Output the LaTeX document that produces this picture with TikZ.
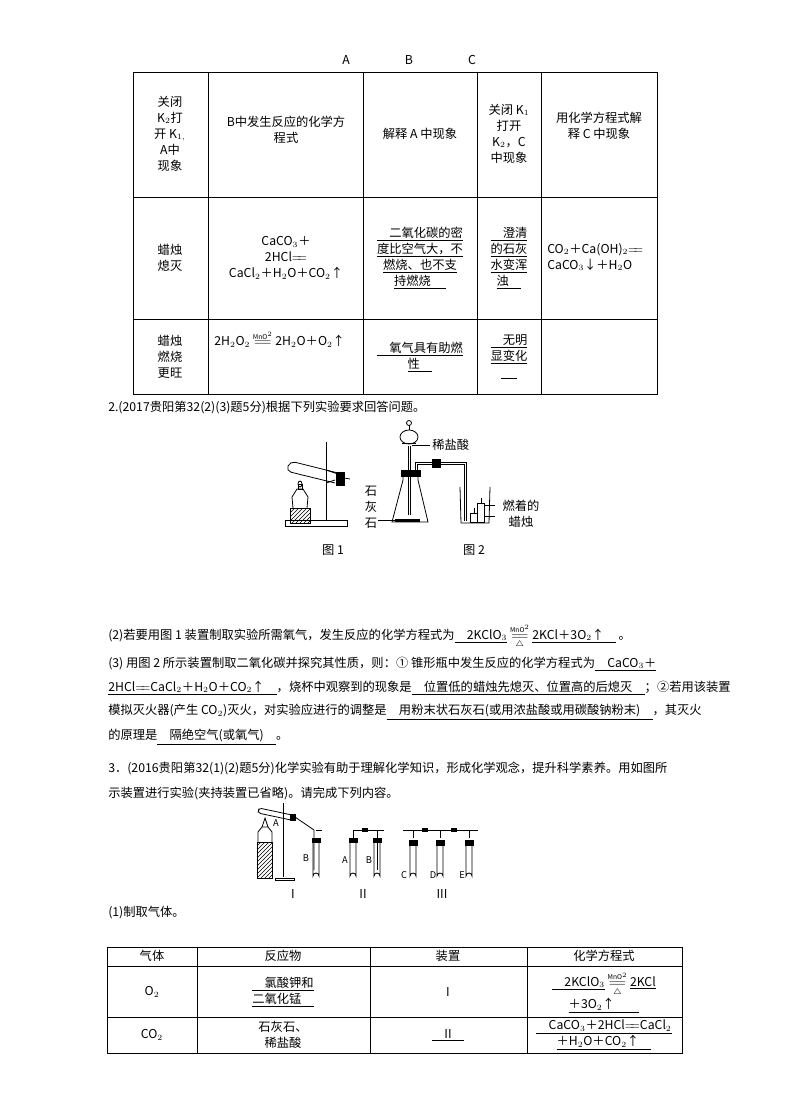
\documentclass[tikz,border=0pt]{standalone}
\usepackage{amsmath}
\usepackage{fontspec}
\setmainfont{Noto Sans CJK SC}
\usetikzlibrary{patterns}
\newcommand{\eqq}{\ensuremath{=\!\!=}}
\newcommand{\ul}[1]{\underline{#1}}
\newcommand{\bl}{\underline{\hspace{1.3em}}}
\newcommand{\mno}{\ensuremath{\overset{\text{\tiny MnO$^2$}}{=\!=}}}
\newcommand{\mnod}{\ensuremath{\overset{\text{\tiny MnO$^2$}}{\underset{\triangle}{=\!=}}}}
\begin{document}
\begin{tikzpicture}[x=0.75pt,y=-0.75pt,font=\fontsize{9.2}{12}\selectfont,
  txt/.style={anchor=west,inner sep=0},
  ctr/.style={align=center,inner sep=0},
  app/.style={line width=0.6pt}]
\useasboundingbox (0,0) rectangle (790,1119);
% header letters
\node (la) at (346,60) {A}; \node (lb) at (409,60) {B}; \node (lc) at (472,60) {C};
% table 1
\draw (133,72) rectangle (657,394);
\foreach \x in {208,363,477,541} \draw (\x,72) -- (\x,394);
\foreach \y in {197,319} \draw (133,\y) -- (657,\y);
\node[ctr] (h1) at (170,134) {关闭\\K$_2$打\\开 K$_{1,}$\\A中\\现象};
\node[ctr] (h2) at (286,130) {B中发生反应的化学方\\程式};
\node[ctr] (h3) at (420,134) {解释 A 中现象};
\node[ctr] (h4) at (509,134) {关闭 K$_1$\\打开\\K$_2$，C\\中现象};
\node[ctr] (h5) at (599,126) {用化学方程式解\\释 C 中现象};
\node[ctr] (r1) at (170,258) {蜡烛\\熄灭};
\node[ctr] (e1) at (286,258) {CaCO$_3$＋\\2HCl\eqq\\CaCl$_2$＋H$_2$O＋CO$_2$↑};
\node[ctr] (x1) at (420,258) {\ul{\quad 二氧化碳的密}\\\ul{度比空气大，不}\\\ul{燃烧、也不支}\\\ul{持燃烧\quad\ }};
\node[ctr] (c1) at (509,258) {\ul{\quad 澄清}\\\ul{的石灰}\\\ul{水变浑}\\\ul{浊\quad}};
\node[txt] (f1) at (547,258) {\begin{tabular}{@{}l@{}}CO$_2$＋Ca(OH)$_2$\eqq\\CaCO$_3$↓＋H$_2$O\end{tabular}};
\node[ctr] (r2) at (170,357) {蜡烛\\燃烧\\更旺};
\node[txt] (e2) at (214,339) {2H$_2$O$_2$ \mno\ 2H$_2$O＋O$_2$↑};
\node[ctr] (x2) at (420,357) {\ul{\quad 氧气具有助燃}\\\ul{性\quad}};
\node[ctr] (c2) at (509,357) {\ul{\quad 无明}\\\ul{显变化}\\\bl};
% question 2
\node[txt] (q2) at (108,408) {2.(2017贵阳第32(2)(3)题5分)根据下列实验要求回答问题。};
% fig 1
\draw[app] (285,520) rectangle (347,526);
\draw[app] (326,442) -- (326,520);
\draw[app,rounded corners=4pt] (338,473) -- (290,461) -- (286,471) -- (335,483);
\draw[app,fill=black] (336,472) rectangle (344,485);
\draw[app] (344,478) -- (350,479);
\draw[app] (326,470) -- (338,474);
\draw[app] (326,483) -- (335,480);
\draw[app,pattern=north east lines] (290,508) rectangle (310,523);
\draw[app] (293,508) -- (292,497) -- (297,489) -- (303,489) -- (308,497) -- (307,508);
\draw[app] (298,489) rectangle (302,484); \draw[app] (300,484) ellipse (2 and 3);
\node (g1) at (333,550) {图 1};
% fig 2
\draw[app] (403,472) -- (403,480) -- (392,522) -- (428,522) -- (418,480) -- (418,472);
\draw[app,fill=black] (401,470) rectangle (420,476);
\draw[app] (408,446) -- (408,515); \draw[app] (410,446) -- (410,515);
\draw[app] (409,437) ellipse (9 and 7);
\draw[app] (409,430) -- (409,425); \draw[app] (409,423) circle (2.5);
\draw[app] (402,443) -- (416,443);
\draw[app] (415,470) -- (415,462) -- (466,462) -- (466,521);
\draw[app] (417,470) -- (417,464) -- (464,464) -- (464,521);
\draw[app,fill=black] (432,459) rectangle (440,467);
\draw[app] (460,487) -- (461,523) -- (489,523) -- (490,487);
\draw[app] (470,522) rectangle (477,513); \draw[app] (474,513) -- (474,508);
\draw[app] (477,522) rectangle (484,503); \draw[app] (481,503) -- (481,498);
\draw[app] (412,445) -- (430,445);
\draw[app] (378,520) -- (402,520);
\fill (395,519) rectangle (420,522);
\draw[app] (485,505) -- (495,505); \draw[app] (485,516) -- (495,516);
\node[txt] (dy) at (432,445) {稀盐酸};
\node[ctr] (sh) at (371,507) {石\\灰\\石};
\node[ctr] (rz) at (521,514) {燃着的\\蜡烛};
\node (g2) at (474,550) {图 2};
% text (2)(3)
\node[txt] (p2) at (108,637) {(2)若要用图 1 装置制取实验所需氧气，发生反应的化学方程式为\ul{\quad 2KClO$_3$} \mnod\ \ul{2KCl＋3O$_2$↑\quad}\,。};
\node[txt] (p3a) at (108,664) {(3) 用图 2 所示装置制取二氧化碳并探究其性质，则：① 锥形瓶中发生反应的化学方程式为\ul{\quad CaCO$_3$＋}};
\node[txt] (p3b) at (108,688) {\ul{2HCl\eqq CaCl$_2$＋H$_2$O＋CO$_2$↑\quad}，烧杯中观察到的现象是\ul{\quad 位置低的蜡烛先熄灭、位置高的后熄灭\quad}；②若用该装置};
\node[txt] (p3c) at (108,712) {模拟灭火器(产生 CO$_2$)灭火，对实验应进行的调整是\ul{\quad 用粉末状石灰石(或用浓盐酸或用碳酸钠粉末)\quad}，其灭火};
\node[txt] (p3d) at (108,737) {的原理是\ul{\quad 隔绝空气(或氧气)\quad}。};
% question 3
\node[txt] (q3a) at (108,768) {3．(2016贵阳第32(1)(2)题5分)化学实验有助于理解化学知识，形成化学观念，提升科学素养。用如图所};
\node[txt] (q3b) at (108,793) {示装置进行实验(夹持装置已省略)。请完成下列内容。};
% fig 3 I
\draw[app,pattern=north east lines] (257,842) rectangle (272,878);
\draw[app] (258,842) -- (258,832) -- (262,827) -- (268,827) -- (272,832) -- (272,842);
\draw[app] (262,827) -- (265,818) -- (268,827);
\draw[app] (283,803) -- (283,877); \draw[app] (275,878) rectangle (294,880);
\draw[app,rounded corners=2pt] (292,815) -- (259,808) -- (258,813) -- (291,820);
\draw[app,fill=black] (290,814) rectangle (295,820);
\draw[app] (295,817) -- (314,830) -- (314,870);
\draw[app] (313,838) -- (313,876) arc (180:360:3) -- (319,838);
\draw[app,fill=black] (312,838) rectangle (320,842);
\draw[app] (316,830) -- (322,830);
\node (fA) at (276,823) {\scriptsize A}; \node (fB) at (306,858) {\scriptsize B};
\node (n1) at (293,894) {I};
% II
\foreach \xx in {353,377} {
 \draw[app] (\xx-3,840) -- (\xx-3,876) arc (180:360:3) -- (\xx+3,840);
 \draw[app,fill=black] (\xx-4,838) rectangle (\xx+4,842);}
\draw[app] (353,838) -- (353,830) -- (377,830) -- (377,870);
\draw[app] (377,830) -- (384,830);
\fill (362,828) rectangle (368,832);
\node (fA2) at (345,860) {\scriptsize A}; \node (fB2) at (369,860) {\scriptsize B};
\node (n2) at (363,894) {II};
% III
\foreach \xx in {413,440,469} {
 \draw[app] (\xx-3,842) -- (\xx-3,876) arc (180:360:3) -- (\xx+3,842);
 \draw[app,fill=black] (\xx-4,840) rectangle (\xx+4,845);
 \draw[app] (\xx,838) -- (\xx,830);}
\draw[app] (403,830) -- (478,830);
\fill (422,828) rectangle (428,832); \fill (451,828) rectangle (457,832);
\node (fC) at (404,875) {\scriptsize C}; \node (fD) at (433,875) {\scriptsize D}; \node (fE) at (462,875) {\scriptsize E};
\node (n3) at (442,894) {III};
\node[txt] (q31) at (108,913) {(1)制取气体。};
% table 2
\draw (107,947) rectangle (682,1053);
\foreach \x in {197,370,527} \draw (\x,947) -- (\x,1053);
\foreach \y in {966,1017} \draw (107,\y) -- (682,\y);
\node (t1) at (152,956) {气体}; \node (t2) at (283,956) {反应物};
\node (t3) at (448,956) {装置}; \node (t4) at (604,956) {化学方程式};
\node (o2) at (152,992) {O$_2$};
\node[ctr] (rw1) at (283,992) {\ul{\quad 氯酸钾和}\\\ul{二氧化锰\quad}};
\node (zz1) at (448,992) {I};
\node[ctr] (fo1) at (604,992) {\ul{\quad 2KClO$_3$} \mnod\ \ul{2KCl}\\\ul{＋3O$_2$↑\qquad}};
\node (co2) at (152,1035) {CO$_2$};
\node[ctr] (rw2) at (283,1035) {石灰石、\\稀盐酸};
\node (zz2) at (448,1035) {\ul{\quad II\quad}};
\node[ctr] (fo2) at (604,1035) {\ul{\quad CaCO$_3$＋2HCl\eqq CaCl$_2$}\\\ul{＋H$_2$O＋CO$_2$↑\quad}};
\end{tikzpicture}
\end{document}
